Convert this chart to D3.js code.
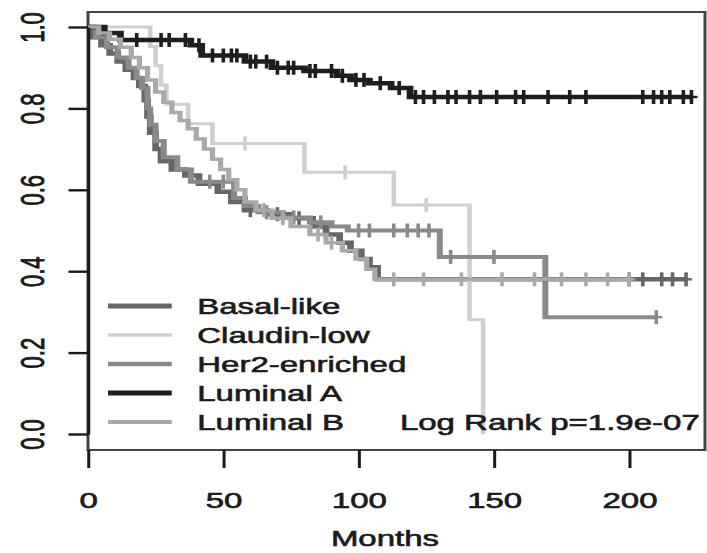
<!DOCTYPE html>
<html>
<head>
<meta charset="utf-8">
<script src="https://cdn.jsdelivr.net/npm/d3@7/dist/d3.min.js"></script>
<style>
  html, body { margin: 0; padding: 0; background: #fff; }
  svg { display: block; }
  text { font-family: "Liberation Sans", Arial, Helvetica, sans-serif; fill: #1a1a1a; stroke: #1a1a1a; stroke-width: 0.6px; }
</style>
</head>
<body>
<div id="chart"></div>
<script>
// Kaplan-Meier survival by PAM50 subtype (months on x, survival probability on y)
const groups = ["Basal-like", "Claudin-low", "Her2-enriched", "Luminal A", "Luminal B"];
const groupColors = ["#666666", "#cfcfcf", "#8a8a8a", "#1e1e1e", "#a9a9a9"];
const groupWidths = [4.5, 3, 4, 4.5, 3.5];

// event times (months) and survival after each step
const basalTimes = [0, 2, 5, 8, 11, 14, 17, 19, 21, 22, 23, 25, 27, 31, 36, 41, 48, 53, 58, 66, 75, 83, 88, 93, 97, 101, 104, 107];
const basalSurv  = [1, 0.975, 0.955, 0.935, 0.915, 0.895, 0.875, 0.855, 0.82, 0.78, 0.74, 0.70, 0.67, 0.65, 0.635, 0.615, 0.595, 0.57, 0.55, 0.54, 0.53, 0.51, 0.49, 0.47, 0.45, 0.43, 0.41, 0.38];
const basalCensor = [60, 70, 78, 200, 205, 212, 216, 221];
const basalEnd = 221;

const claudinTimes = [0, 23, 25, 27, 29, 37, 46, 80, 113, 141, 146];
const claudinSurv  = [1, 0.952, 0.905, 0.857, 0.81, 0.762, 0.714, 0.643, 0.5625, 0.281, 0];
const claudinCensor = [58, 95, 125];
const claudinEnd = 146;

const her2Times = [0, 3, 7, 11, 15, 18, 20, 22, 23, 25, 28, 33, 38, 54, 58, 63, 72, 82, 90, 96, 130, 169];
const her2Surv  = [1, 0.975, 0.95, 0.925, 0.9, 0.875, 0.85, 0.8, 0.76, 0.72, 0.68, 0.65, 0.62, 0.58, 0.56, 0.545, 0.532, 0.52, 0.51, 0.5, 0.435, 0.287];
const her2Censor = [45, 50, 66, 76, 86, 100, 104, 113, 118, 122, 126, 134, 150, 210];
const her2End = 210;

const lumATimes = [0, 6, 12, 38, 42, 58, 68, 80, 92, 97, 104, 112, 119];
const lumASurv  = [1, 0.985, 0.968, 0.955, 0.93, 0.915, 0.9, 0.892, 0.88, 0.87, 0.862, 0.85, 0.828];
const lumACensor = [18, 27, 30, 36, 41, 46, 50, 53, 55, 60, 62, 66, 70, 74, 76, 82, 84, 90, 94, 99, 102, 108, 115, 121, 124, 128, 133, 136, 141, 145, 151, 158, 161, 170, 178, 184, 205, 209, 212, 215, 220, 223];
const lumAEnd = 223;

const lumBTimes = [0, 4, 8, 12, 16, 19, 22, 25, 28, 31, 34, 37, 40, 43, 46, 49, 52, 55, 58, 62, 68, 75, 82, 88, 94, 99, 103, 106];
const lumBSurv  = [1, 0.985, 0.97, 0.95, 0.925, 0.9, 0.87, 0.84, 0.815, 0.79, 0.77, 0.75, 0.725, 0.7, 0.675, 0.65, 0.625, 0.6, 0.57, 0.55, 0.53, 0.51, 0.49, 0.47, 0.45, 0.43, 0.405, 0.38];
const lumBCensor = [65, 72, 85, 90, 113, 124, 138, 153, 165, 175, 184, 192, 200];
const lumBEnd = 200;

const xTicks = [0, 50, 100, 150, 200];
const yTicks = [0, 0.2, 0.4, 0.6, 0.8, 1.0];
const xLabel = "Months";
const pText = "Log Rank p=1.9e-07";

const curves = [
  { times: basalTimes, surv: basalSurv, censor: basalCensor, end: basalEnd },
  { times: claudinTimes, surv: claudinSurv, censor: claudinCensor, end: claudinEnd },
  { times: her2Times, surv: her2Surv, censor: her2Censor, end: her2End },
  { times: lumATimes, surv: lumASurv, censor: lumACensor, end: lumAEnd },
  { times: lumBTimes, surv: lumBSurv, censor: lumBCensor, end: lumBEnd }
];

// The figure is laid out in a narrow frame and stretched horizontally.
const W = 707, H = 553, SX = 1.5;
const box = { left: 88 / SX, right: 705 / SX, top: 12, bottom: 450 };

const x = d3.scaleLinear().domain([0, 228]).range([box.left, box.right]);
const y = d3.scaleLinear().domain([0, 1]).range([434, 27]);

const svg = d3.select("#chart").append("svg").attr("width", W).attr("height", H);
const root = svg.append("g").attr("transform", `scale(${SX},1)`);

// plot frame
root.append("rect")
  .attr("x", box.left).attr("y", box.top)
  .attr("width", box.right - box.left).attr("height", box.bottom - box.top)
  .attr("fill", "none").attr("stroke", "#444").attr("stroke-width", 2);

// survival step curves
const line = d3.line().x(d => x(d[0])).y(d => y(d[1])).curve(d3.curveStepAfter);
function survAt(c, t) {
  let s = 1;
  for (let i = 0; i < c.times.length; i++) if (c.times[i] <= t) s = c.surv[i];
  return s;
}
curves.forEach((c, i) => {
  const pts = c.times.map((t, k) => [t, c.surv[k]]);
  if (c.end > c.times[c.times.length - 1]) pts.push([c.end, c.surv[c.surv.length - 1]]);
  root.append("path")
    .attr("d", line(pts))
    .attr("fill", "none")
    .attr("stroke", groupColors[i])
    .attr("stroke-width", groupWidths[i])
    .attr("stroke-linejoin", "miter");
  // censoring marks
  const g = root.append("g").attr("stroke", groupColors[i]).attr("stroke-width", 2.4);
  c.censor.forEach(t => {
    const cx = x(t), cy = y(survAt(c, t));
    g.append("line").attr("x1", cx - 4).attr("x2", cx + 4).attr("y1", cy).attr("y2", cy);
    g.append("line").attr("x1", cx).attr("x2", cx).attr("y1", cy - 7).attr("y2", cy + 7);
  });
});

// axes
const yAxis = root.append("g")
  .attr("transform", `translate(${box.left},0)`)
  .call(d3.axisLeft(y).tickValues(yTicks).tickFormat(d3.format(".1f")).tickSize(13).tickSizeOuter(0));
yAxis.select(".domain").attr("stroke", "#1a1a1a").attr("stroke-width", 2);
yAxis.selectAll(".tick line").attr("stroke", "#1a1a1a").attr("stroke-width", 2.4);
yAxis.selectAll(".tick text")
  .attr("transform", "rotate(-90)")
  .attr("x", 0).attr("y", -29.5).attr("dy", 0)
  .attr("text-anchor", "middle")
  .style("font-size", "22px");

const xAxis = root.append("g")
  .attr("transform", `translate(0,${box.bottom})`)
  .call(d3.axisBottom(x).tickValues(xTicks).tickFormat(d3.format("d")).tickSize(18).tickSizeOuter(0));
xAxis.select(".domain").remove();
xAxis.selectAll(".tick line").attr("stroke", "#1a1a1a").attr("stroke-width", 2);
xAxis.selectAll(".tick text")
  .attr("y", 58).attr("dy", 0)
  .style("font-size", "22px");

root.append("text")
  .attr("x", 385 / SX).attr("y", 546)
  .attr("text-anchor", "middle")
  .style("font-size", "22px")
  .text(xLabel);

// legend
const legendY = [306, 335, 364, 393, 422];
const legend = root.append("g");
groups.forEach((name, i) => {
  legend.append("line")
    .attr("x1", 72).attr("x2", 114.5)
    .attr("y1", legendY[i]).attr("y2", legendY[i])
    .attr("stroke", groupColors[i]).attr("stroke-width", groupWidths[i] + 0.5);
  legend.append("text")
    .attr("x", 131.5).attr("y", legendY[i] + 8)
    .style("font-size", "22px")
    .text(name);
});

root.append("text")
  .attr("x", 466.5).attr("y", 430)
  .attr("text-anchor", "end")
  .style("font-size", "22px")
  .text(pText);
</script>
</body>
</html>
